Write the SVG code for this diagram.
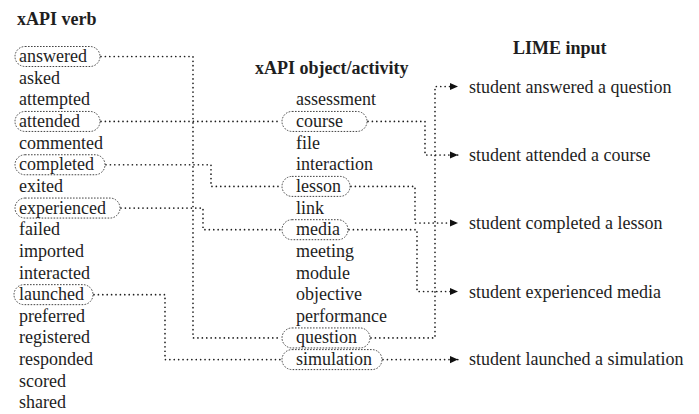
<svg xmlns="http://www.w3.org/2000/svg" width="699" height="414" viewBox="0 0 699 414">
<defs>
<style>
text{font-family:"Liberation Serif","Times New Roman",serif;font-size:18px;fill:#1e1e1e}
.title{font-weight:bold}
.oval{fill:none;stroke:#444;stroke-width:1;stroke-dasharray:1.6 1.4}
.dot{fill:none;stroke:#1e1e1e;stroke-width:1.7;stroke-dasharray:0 4.4;stroke-linecap:round;stroke-linejoin:round}
</style>
<marker id="arr" markerUnits="userSpaceOnUse" markerWidth="10" markerHeight="10" refX="9" refY="5" orient="auto">
<path d="M1,1.4 L9,5 L1,8.6 Z" fill="#111"/>
</marker>
</defs>
<rect width="699" height="414" fill="#fff"/>

<g id="titles">
<text class="title" x="17" y="25">xAPI verb</text>
<text class="title" x="255" y="74">xAPI object/activity</text>
<text class="title" x="513" y="54">LIME input</text>
</g>

<g id="verbs">
<g id="v-answered"><rect class="oval" x="15" y="46.5" width="85" height="20" rx="10"/><text x="19" y="62">answered</text></g>
<g id="v-asked"><text x="19" y="83.65">asked</text></g>
<g id="v-attempted"><text x="19" y="105.3">attempted</text></g>
<g id="v-attended"><rect class="oval" x="15" y="111.45" width="85" height="20" rx="10"/><text x="19" y="126.95">attended</text></g>
<g id="v-commented"><text x="19" y="148.6">commented</text></g>
<g id="v-completed"><rect class="oval" x="15" y="154.75" width="90" height="20" rx="10"/><text x="19" y="170.25">completed</text></g>
<g id="v-exited"><text x="19" y="191.9">exited</text></g>
<g id="v-experienced"><rect class="oval" x="15" y="198.05" width="105" height="20" rx="10"/><text x="19" y="213.55">experienced</text></g>
<g id="v-failed"><text x="19" y="235.2">failed</text></g>
<g id="v-imported"><text x="19" y="256.85">imported</text></g>
<g id="v-interacted"><text x="19" y="278.5">interacted</text></g>
<g id="v-launched"><rect class="oval" x="14" y="284.65" width="79" height="20" rx="10"/><text x="19" y="300.15">launched</text></g>
<g id="v-preferred"><text x="19" y="321.8">preferred</text></g>
<g id="v-registered"><text x="19" y="343.45">registered</text></g>
<g id="v-responded"><text x="19" y="365.1">responded</text></g>
<g id="v-scored"><text x="19" y="386.75">scored</text></g>
<g id="v-shared"><text x="19" y="408.4">shared</text></g>
</g>

<g id="objects">
<g id="o-assessment"><text x="296" y="105.3">assessment</text></g>
<g id="o-course"><rect class="oval" x="282" y="111.45" width="85" height="20" rx="10"/><text x="296" y="126.95">course</text></g>
<g id="o-file"><text x="296" y="148.6">file</text></g>
<g id="o-interaction"><text x="296" y="170.25">interaction</text></g>
<g id="o-lesson"><rect class="oval" x="282" y="176.4" width="68" height="20" rx="10"/><text x="296" y="191.9">lesson</text></g>
<g id="o-link"><text x="296" y="213.55">link</text></g>
<g id="o-media"><rect class="oval" x="282" y="219.7" width="66" height="20" rx="10"/><text x="296" y="235.2">media</text></g>
<g id="o-meeting"><text x="296" y="256.85">meeting</text></g>
<g id="o-module"><text x="296" y="278.5">module</text></g>
<g id="o-objective"><text x="296" y="300.15">objective</text></g>
<g id="o-performance"><text x="296" y="321.8">performance</text></g>
<g id="o-question"><rect class="oval" x="282" y="327.95" width="88" height="20" rx="10"/><text x="296" y="343.45">question</text></g>
<g id="o-simulation"><rect class="oval" x="282" y="349.6" width="100" height="20" rx="10"/><text x="296" y="365.1">simulation</text></g>
</g>

<g id="lime">
<g id="l-answered"><text x="469" y="92.5">student answered a question</text></g>
<g id="l-attended"><text x="469" y="161">student attended a course</text></g>
<g id="l-completed"><text x="469" y="229">student completed a lesson</text></g>
<g id="l-experienced"><text x="469" y="297.5">student experienced media</text></g>
<g id="l-launched"><text x="469" y="365">student launched a simulation</text></g>
</g>

<g id="connectors">
<path class="dot" d="M101,56.5 H193 V337.95 H281"/>
<path class="dot" d="M101,121.45 H281"/>
<path class="dot" d="M106,164.75 H211 V186.4 H281"/>
<path class="dot" d="M121,208.05 H203 V229.7 H281"/>
<path class="dot" d="M94,294.65 H165 V359.6 H281"/>
<path class="dot" d="M371,337.95 H435 V86.5 H458" marker-end="url(#arr)"/>
<path class="dot" d="M368,121.45 H425 V155 H458" marker-end="url(#arr)"/>
<path class="dot" d="M351,186.4 H415 V223 H458" marker-end="url(#arr)"/>
<path class="dot" d="M349,229.7 H417 V291.5 H458" marker-end="url(#arr)"/>
<path class="dot" d="M383,359.6 H458" marker-end="url(#arr)"/>
</g>
</svg>
